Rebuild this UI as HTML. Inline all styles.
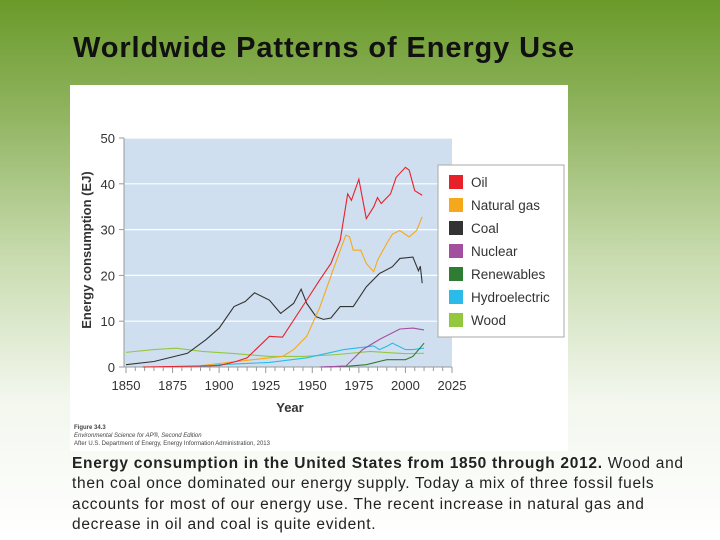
<!DOCTYPE html>
<html><head><meta charset="utf-8"><style>
body{margin:0;width:720px;height:540px;overflow:hidden;font-family:"Liberation Sans",sans-serif;
background:linear-gradient(to bottom,#6a9a2a 0px,#8fb35e 110px,#c9dcb0 260px,#f3f7ee 400px,#ffffff 540px);position:relative}
#title{position:absolute;left:73px;top:32px;font-size:29px;letter-spacing:0.9px;font-weight:bold;color:#111;white-space:nowrap}
#cap{position:absolute;left:72px;top:454px;font-size:15.5px;letter-spacing:0.7px;line-height:20.3px;color:#222;white-space:nowrap}
svg{position:absolute;left:0;top:0}
</style></head><body>
<div id="title">Worldwide Patterns of Energy Use</div>
<svg id="chart" width="720" height="540">
<rect x="70" y="85" width="498" height="366" fill="#fff"/>
<rect x="124" y="138" width="328" height="229" fill="#cfdfef"/>
<g id="grid"></g><g id="axes"></g><g id="series"></g><g id="legend"></g>
<text x="290" y="412" font-size="13" font-weight="bold" text-anchor="middle" fill="#333">Year</text>
<text transform="translate(91,250) rotate(-90)" font-size="13" font-weight="bold" text-anchor="middle" fill="#333">Energy consumption (EJ)</text>
<g font-size="6" fill="#444">
<text x="74" y="429" font-weight="bold">Figure 34.3</text>
<text x="74" y="437" font-style="italic">Environmental Science for AP®, Second Edition</text>
<text x="74" y="445">After U.S. Department of Energy, Energy Information Administration, 2013</text>
</g>
</svg>
<div id="cap"><b>Energy consumption in the United States from 1850 through 2012.</b> Wood and<br>then coal once dominated our energy supply. Today a mix of three fossil fuels<br>accounts for most of our energy use. The recent increase in natural gas and<br>decrease in oil and coal is quite evident.</div>
<script>
const yTicks=[0,10,20,30,40,50];
const xTicks=[1850,1875,1900,1925,1950,1975,2000,2025];
const seriesNames=["Oil","Natural gas","Coal","Nuclear","Renewables","Hydroelectric","Wood"];
const seriesColors=["#e8202a","#f5a81c","#333333","#a44ea0","#2e7d32","#2bbbe8","#93c83e"];
const oilYears=[1859,1900,1909,1915,1927,1934,1947,1954,1960,1965,1969,1971,1975,1979,1983,1985,1987,1992,1995,2000,2002,2005,2009];
const oilVals=[0,0.3,1.2,2,6.7,6.5,14.6,19,22.6,27.7,37.8,36.4,41,32.4,35,37,35.7,37.8,41.4,43.6,43,38.5,37.5];
const gasYears=[1890,1918,1934,1940,1947,1954,1961,1967,1968,1970,1972,1976,1979,1983,1985,1990,1993,1997,2002,2006,2009];
const gasVals=[0.3,1.6,2.3,3.8,6.7,13,21,27.7,28.8,28.4,25.5,25.5,22.6,20.8,23.3,27,29,29.8,28.4,29.8,32.8];
const coalYears=[1850,1865,1883,1893,1900,1908,1914,1919,1927,1933,1940,1944,1947,1952,1956,1960,1965,1972,1979,1986,1993,1997,2004,2007,2008,2009];
const coalVals=[0.5,1.2,3,6,8.5,13.2,14.3,16.2,14.6,11.7,13.9,17,13.9,11,10.4,10.7,13.2,13.2,17.5,20.4,21.9,23.7,24,21,22,18.3];
const nucYears=[1954,1968,1977,1986,1997,2004,2010];
const nucVals=[0,0.2,3.8,6,8.3,8.5,8.1];
const renYears=[1955,1970,1979,1990,2000,2004,2010];
const renVals=[0,0.2,0.5,1.6,1.6,2.3,5.2];
const hydYears=[1890,1900,1927,1947,1967,1983,1986,1990,1993,2000,2004,2010];
const hydVals=[0,0.5,1,2,3.8,4.6,3.8,4.5,5.2,3.8,3.8,4.1];
const woodYears=[1850,1865,1877,1891,1909,1927,1945,1963,1981,2000,2010];
const woodVals=[3.2,3.8,4.1,3.4,2.9,2.3,2.3,2.7,3.4,2.9,3];
const allYears=[oilYears,gasYears,coalYears,nucYears,renYears,hydYears,woodYears];
const allVals=[oilVals,gasVals,coalVals,nucVals,renVals,hydVals,woodVals];
const NS="http://www.w3.org/2000/svg";
const X=y=>126+(y-1850)*(326/175);
const Y=v=>367-v*4.58;
function mk(t,a,p){const e=document.createElementNS(NS,t);for(const k in a)e.setAttribute(k,a[k]);p.appendChild(e);return e;}
const grid=document.getElementById('grid'),axes=document.getElementById('axes'),ser=document.getElementById('series'),leg=document.getElementById('legend');
yTicks.forEach(v=>{
 if(v>0){const g=mk('line',{x1:124,x2:452,y1:Y(v),y2:Y(v),stroke:'#fff','stroke-width':1.2},grid);
 
 }
 mk('line',{x1:119,x2:124,y1:Y(v),y2:Y(v),stroke:'#999'},axes);
 const t=mk('text',{x:115,y:Y(v)+5,'font-size':13,'text-anchor':'end',fill:'#333'},axes);t.textContent=v;
 
 
});
mk('line',{x1:124,x2:124,y1:138,y2:367,stroke:'#999'},axes);
mk('line',{x1:124,x2:452,y1:367,y2:367,stroke:'#999'},axes);
for(let yr=1850;yr<=2025;yr+=5){mk('line',{x1:X(yr),x2:X(yr),y1:367,y2:yr%25?371:373,stroke:'#999'},axes);}
xTicks.forEach(v=>{const t=mk('text',{x:X(v),y:390,'font-size':13,'text-anchor':'middle',fill:'#333'},axes);t.textContent=v;
 
 });
for(let i=allYears.length-1;i>=0;i--){
 const pts=allYears[i].map((yr,j)=>X(yr)+','+Y(allVals[i][j])).join(' ');
 const p=mk('polyline',{points:pts,fill:'none',stroke:seriesColors[i],'stroke-width':1.1},ser);
 
 
}
const lb=mk('rect',{x:438,y:165,width:126,height:172,fill:'#fff',stroke:'#aaa'},leg);


seriesNames.forEach((n,i)=>{
 const y=182+i*23;
 const g=mk('g',{},leg);
 
 
 mk('rect',{x:449,y:y-7,width:14,height:14,fill:seriesColors[i]},g);
 const t=mk('text',{x:471,y:y+5,'font-size':13.5,fill:'#333'},g);t.textContent=n;
});
</script>
</body></html>
